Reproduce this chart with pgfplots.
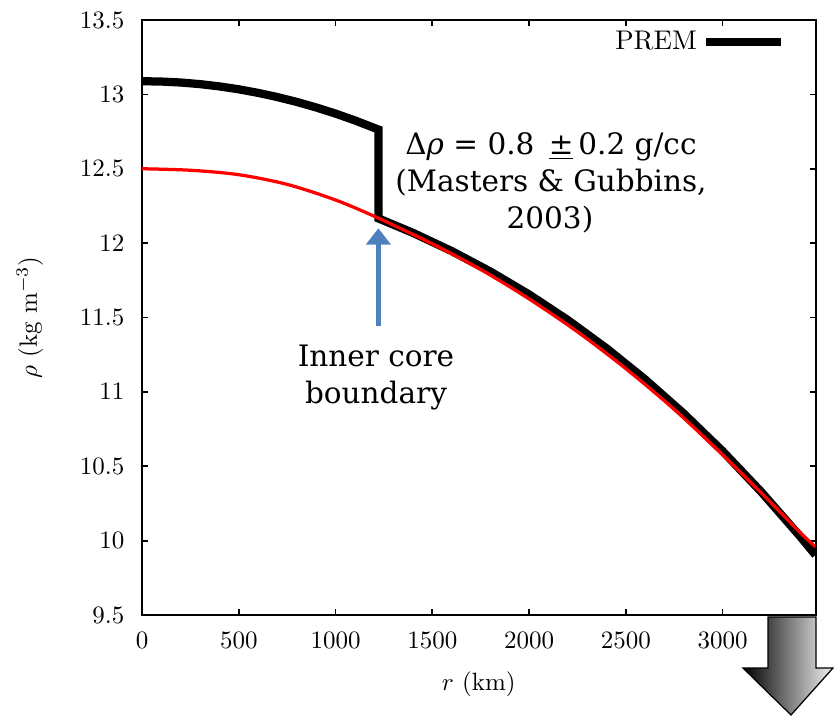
\documentclass[border=0pt]{standalone}
\usepackage{fontspec}
\usepackage{pgfplots}
\pgfplotsset{compat=1.18}
\usetikzlibrary{arrows.meta}
\newfontfamily\annot{DejaVu Serif}
\definecolor{arrowblue}{RGB}{79,129,189}
\begin{document}
\begin{tikzpicture}
\path[use as bounding box] (0pt,0pt) rectangle (333.6pt,286.8pt);
\begin{axis}[
  at={(56.8pt,40.8pt)}, anchor=south west,
  scale only axis, width=269.4pt, height=238pt,
  xmin=0, xmax=3480, ymin=9.5, ymax=13.5,
  xtick={0,500,1000,1500,2000,2500,3000},
  ytick={9.5,10,10.5,11,11.5,12,12.5,13,13.5},
  /pgf/number format/1000 sep={},
  tick align=inside, tick pos=both,
  major tick length=2.4pt,
  every tick/.style={line width=0.7pt, black},
  axis line style={line width=0.8pt},
  yticklabel style={xshift=-3.5pt},
  xticklabel style={yshift=-3.5pt},
  xlabel={$r$ (km)},
  ylabel={$\rho$ (kg m$^{-3}$)},
  xlabel style={at={(rel axis cs:0.5,0)}, anchor=base, yshift=-30pt},
  ylabel style={at={(rel axis cs:0,0.5)}, anchor=base, yshift=42pt},
  legend plot pos=right,
  legend image code/.code={\draw[#1] (0pt,0pt) -- (30pt,0pt);},
  legend style={draw=none, fill=none, at={(rel axis cs:1,1)}, anchor=east, xshift=-12pt, yshift=-8.8pt, inner sep=0pt},
  legend cell align=right,
]
\addplot[black, line width=3.3pt, line join=miter] coordinates {
(0,13.0885) (100,13.0863) (200,13.0798) (300,13.0689) (400,13.0537) (500,13.0341)
(600,13.0101) (700,12.9818) (800,12.9491) (900,12.9121) (1000,12.8708) (1100,12.8250)
(1221.5,12.7636) (1221.5,12.1663) (1400,12.0692) (1600,11.9468) (1800,11.8090)
(2000,11.6548) (2200,11.4831) (2400,11.2930) (2600,11.0834) (2800,10.8532)
(3000,10.6015) (3200,10.3273) (3400,10.0294) (3480,9.9034)
};
\addlegendentry{\fontsize{10.8}{13}\selectfont PREM\hspace{3.5pt}}
\addplot[red, line width=1.3pt, smooth, forget plot] coordinates {
(0,12.500) (250,12.490) (500,12.460) (750,12.395) (1000,12.290) (1221.5,12.168)
(1500,11.995) (1750,11.823) (2000,11.625) (2250,11.404) (2500,11.156)
(2750,10.882) (3000,10.577) (3250,10.255) (3400,10.055) (3480,9.958)
};
\draw[arrowblue, line width=2pt, -{Triangle[width=9.6pt,length=6.5pt]}] (axis cs:1221.5,11.44) -- (axis cs:1221.5,12.10);
\end{axis}
\begin{scope}[shift={(0pt,286.8pt)}, x=0.4pt, y=-0.4pt]
\begin{scope}[font=\annot\fontsize{11.8}{14}\selectfont]
\node[anchor=base, inner sep=0pt] at (551,155) {Δ{\itshape ρ} = 0.8 \,\underline{±}\,0.2 g/cc};
\node[anchor=base, inner sep=0pt] at (551,192) {(Masters \& Gubbins,};
\node[anchor=base, inner sep=0pt] at (550,229) {2003)};
\node[anchor=base, inner sep=0pt] at (376,367) {Inner core};
\node[anchor=base, inner sep=0pt] at (376,404) {boundary};
\end{scope}
\draw[line width=0.5pt, draw=black, left color=black, right color=black!5]
  (768,617) -- (816,617) -- (816,668) -- (833,668) -- (791,715) -- (743,668) -- (768,668) -- cycle;
\end{scope}
\end{tikzpicture}
\end{document}
